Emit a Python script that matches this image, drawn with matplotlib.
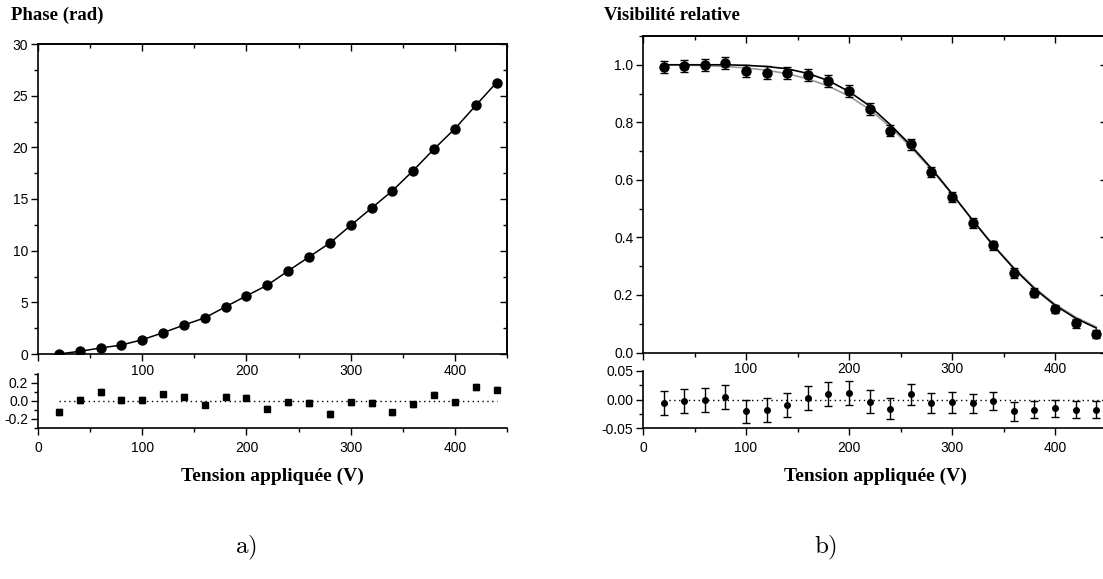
import matplotlib
matplotlib.use("Agg")
import matplotlib.pyplot as plt
from matplotlib.ticker import MultipleLocator

plt.rcParams['font.family'] = ['Liberation Sans', 'DejaVu Sans']
plt.rcParams['axes.unicode_minus'] = False
plt.rcParams['mathtext.fontset'] = 'cm'

# ---------------- data ----------------
voltage = [20, 40, 60, 80, 100, 120, 140, 160, 180, 200, 220,
           240, 260, 280, 300, 320, 340, 360, 380, 400, 420, 440]

phase = [0.0, 0.26, 0.58, 0.87, 1.38, 2.06, 2.80, 3.50, 4.57, 5.63, 6.66,
         8.04, 9.39, 10.74, 12.44, 14.12, 15.79, 17.75, 19.84, 21.80, 24.05, 26.27]
phase_resid = [-0.124, 0.011, 0.102, 0.011, 0.011, 0.073, 0.047, -0.040, 0.047, 0.036, -0.084,
               -0.015, -0.022, -0.145, -0.015, -0.022, -0.127, -0.036, 0.069, -0.015, 0.156, 0.127]
phase_resid_err = [0.03] * 22

visib = [0.993, 0.995, 1.000, 1.006, 0.978, 0.973, 0.971, 0.965, 0.944, 0.910, 0.847,
         0.770, 0.723, 0.628, 0.541, 0.451, 0.372, 0.276, 0.208, 0.151, 0.101, 0.064]
visib_err = [0.021, 0.021, 0.021, 0.021, 0.021, 0.021, 0.021, 0.021, 0.021, 0.021, 0.020,
             0.019, 0.018, 0.018, 0.018, 0.017, 0.016, 0.016, 0.015, 0.015, 0.015, 0.015]
fit_black = [1.000, 1.000, 1.000, 1.000, 0.998, 0.994, 0.986, 0.970, 0.945, 0.907, 0.857,
             0.792, 0.720, 0.640, 0.552, 0.460, 0.372, 0.292, 0.222, 0.164, 0.119, 0.085]
fit_gray = [1.000, 0.999, 0.997, 0.994, 0.989, 0.981, 0.969, 0.951, 0.926, 0.891, 0.845,
            0.784, 0.714, 0.636, 0.550, 0.460, 0.374, 0.295, 0.226, 0.168, 0.123, 0.089]
visib_resid = [-0.006, -0.003, -0.001, 0.004, -0.021, -0.018, -0.010, 0.002, 0.009, 0.011, -0.004,
               -0.016, 0.009, -0.006, -0.005, -0.007, -0.002, -0.021, -0.018, -0.015, -0.018, -0.018]

# ---------------- figure ----------------
W, H = 1103, 579
fig = plt.figure(figsize=(W / 100, H / 100), dpi=100)


def rect(x0, x1, ytop, ybot):
    return [x0 / W, 1 - ybot / H, (x1 - x0) / W, (ybot - ytop) / H]


TL = 10
tick_kw = dict(labelsize=TL, width=1.0, color='black')


def style_main(ax, ymaj, ymin):
    for s in ax.spines.values():
        s.set_linewidth(1.2)
    ax.xaxis.set_major_locator(MultipleLocator(100))
    ax.xaxis.set_minor_locator(MultipleLocator(50))
    ax.yaxis.set_major_locator(MultipleLocator(ymaj))
    ax.yaxis.set_minor_locator(MultipleLocator(ymin))
    ax.tick_params(which='major', direction='out', length=5, **tick_kw)
    ax.tick_params(which='minor', direction='out', length=3, width=1.0)
    ax.tick_params(axis='x', pad=2)
    ax.tick_params(axis='y', pad=2)
    ax.xaxis.set_major_formatter(plt.FuncFormatter(lambda v, p: '' if v == 0 else f'{v:.0f}'))
    # inward ticks on top and right
    top = ax.secondary_xaxis('top')
    top.xaxis.set_major_locator(MultipleLocator(100))
    top.xaxis.set_minor_locator(MultipleLocator(50))
    top.tick_params(which='major', direction='in', length=5, width=1.0, labeltop=False)
    top.tick_params(which='minor', direction='in', length=3, width=1.0)
    top.spines['top'].set_linewidth(1.2)
    right = ax.secondary_yaxis('right')
    right.yaxis.set_major_locator(MultipleLocator(ymaj))
    right.yaxis.set_minor_locator(MultipleLocator(ymin))
    right.tick_params(which='major', direction='in', length=5, width=1.0, labelright=False)
    right.tick_params(which='minor', direction='in', length=3, width=1.0)
    right.spines['right'].set_linewidth(1.2)


def style_resid(ax, ymaj, ymin):
    ax.spines['top'].set_visible(False)
    ax.spines['right'].set_visible(False)
    for s in ('left', 'bottom'):
        ax.spines[s].set_linewidth(1.2)
    ax.xaxis.set_major_locator(MultipleLocator(100))
    ax.xaxis.set_minor_locator(MultipleLocator(50))
    ax.yaxis.set_major_locator(MultipleLocator(ymaj))
    ax.yaxis.set_minor_locator(MultipleLocator(ymin))
    ax.tick_params(which='major', direction='out', length=5, **tick_kw)
    ax.tick_params(which='minor', direction='out', length=3, width=1.0)
    ax.tick_params(axis='x', pad=4)
    ax.tick_params(axis='y', pad=2)
    ax.patch.set_alpha(0)


# ---- panel a ----
axA = fig.add_axes(rect(38, 507, 44, 354))
axA.plot(voltage, phase, color='black', lw=1.1, zorder=2)
axA.plot(voltage, phase, 'o', color='black', ms=6.5, zorder=3)
axA.set_xlim(0, 450)
axA.set_ylim(0, 30)
style_main(axA, 5, 2.5)
axA.yaxis.set_major_formatter(plt.FuncFormatter(lambda v, p: f'{v:.0f}'))

axAr = fig.add_axes(rect(38, 507, 374, 428))
axAr.plot([20, 440], [0, 0], ls=(0, (1, 2.5)), color='black', lw=1.0)
axAr.errorbar(voltage, phase_resid, yerr=phase_resid_err, fmt='s', color='black',
              ecolor='#333333', ms=3.8, capsize=2.5, elinewidth=1.0, capthick=1.0)
axAr.set_xlim(0, 450)
axAr.set_ylim(-0.3, 0.3)
style_resid(axAr, 0.2, 0.1)
axAr.yaxis.set_major_formatter(plt.FuncFormatter(lambda v, p: f'{v:.1f}'))

# ---- panel b ----
axB = fig.add_axes(rect(643, 1106.5, 36, 352.5))
axB.plot(voltage, fit_gray, color='#999999', lw=1.2, zorder=2)
axB.plot(voltage, fit_black, color='black', lw=1.2, zorder=2)
axB.errorbar(voltage, visib, yerr=visib_err, fmt='o', color='black', ecolor='black',
             ms=6.5, capsize=3, elinewidth=1.0, capthick=1.0, zorder=3)
axB.set_xlim(0, 450)
axB.set_ylim(0, 1.1)
style_main(axB, 0.2, 0.1)
axB.yaxis.set_major_formatter(plt.FuncFormatter(lambda v, p: '' if v > 1.05 else f'{v:.1f}'))

axBr = fig.add_axes(rect(643, 1106.5, 371, 428))
axBr.plot([20, 450], [0, 0], ls=(0, (1, 2.5)), color='black', lw=1.0)
axBr.errorbar(voltage, visib_resid, yerr=visib_err, fmt='o', color='black', ecolor='black',
              ms=4, capsize=3, elinewidth=1.0, capthick=1.0)
axBr.set_xlim(0, 450)
axBr.set_ylim(-0.05, 0.05)
style_resid(axBr, 0.05, 0.025)
axBr.yaxis.set_major_formatter(plt.FuncFormatter(lambda v, p: f'{v:.2f}'))

# ---- texts ----
serif_bold = dict(family=['Liberation Serif', 'DejaVu Serif'], fontweight='bold')
fig.text(11 / W, 1 - 15 / H, 'Phase (rad)', ha='left', va='center', fontsize=13.5, **serif_bold)
fig.text(604 / W, 1 - 16 / H, 'Visibilité relative', ha='left', va='center', fontsize=13.5, **serif_bold)
fig.text(272.5 / W, 1 - 476 / H, 'Tension appliquée (V)', ha='center', va='center', fontsize=14, **serif_bold)
fig.text(875 / W, 1 - 476 / H, 'Tension appliquée (V)', ha='center', va='center', fontsize=14, **serif_bold)
fig.text(246 / W, 1 - 548 / H, r'$\mathrm{a)}$', ha='center', va='center', fontsize=18)
fig.text(826 / W, 1 - 548 / H, r'$\mathrm{b)}$', ha='center', va='center', fontsize=18)

fig.savefig('out.png', dpi=100)
